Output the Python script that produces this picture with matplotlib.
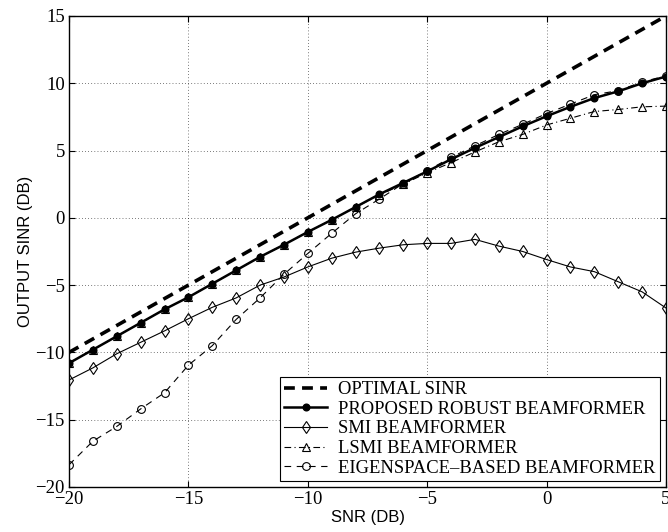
import matplotlib
matplotlib.use("Agg")
import matplotlib.pyplot as plt

snr = [-20, -19, -18, -17, -16, -15, -14, -13, -12, -11, -10, -9, -8,
       -7, -6, -5, -4, -3, -2, -1, 0, 1, 2, 3, 4, 5]

optimal = [-10, -9, -8, -7, -6, -5, -4, -3, -2, -1, 0, 1, 2,
           3, 4, 5, 6, 7, 8, 9, 10, 11, 12, 13, 14, 15]

proposed = [-10.8, -9.8, -8.8, -7.8, -6.8, -5.9, -4.9, -3.9, -2.9, -2.0, -1.05, -0.15, 0.8,
            1.75, 2.6, 3.45, 4.35, 5.2, 6.0, 6.8, 7.55, 8.25, 8.9, 9.4, 10.0, 10.5]

smi = [-12.05, -11.15, -10.1, -9.25, -8.4, -7.5, -6.65, -5.95, -5.0, -4.4, -3.65, -3.0, -2.55,
       -2.25, -2.0, -1.9, -1.9, -1.6, -2.1, -2.5, -3.1, -3.65, -4.0, -4.75, -5.5, -6.7]

lsmi = [-10.8, -9.8, -8.8, -7.8, -6.8, -5.9, -4.9, -3.9, -2.9, -2.0, -1.05, -0.15, 0.8,
        1.7, 2.5, 3.35, 4.1, 4.9, 5.65, 6.2, 6.9, 7.4, 7.9, 8.05, 8.25, 8.3]

eigen = [-18.35, -16.6, -15.5, -14.2, -13.0, -10.95, -9.5, -7.55, -5.95, -4.2, -2.65, -1.15, 0.3,
         1.4, 2.55, 3.5, 4.5, 5.35, 6.2, 6.95, 7.75, 8.45, 9.15, 9.45, 10.1, 10.55]

labels = ["OPTIMAL SINR", "PROPOSED ROBUST BEAMFORMER", "SMI BEAMFORMER",
          "LSMI BEAMFORMER", "EIGENSPACE\u2013BASED BEAMFORMER"]

serif = ["Liberation Serif", "DejaVu Serif"]
sans = ["Liberation Sans", "DejaVu Sans"]

fig = plt.figure(figsize=(6.68, 5.32), dpi=100)
ax = fig.add_axes([0.1033, 0.0846, 0.8937, 0.8854])

ax.plot(snr, optimal, color="black", lw=2.6, ls=(0, (3.0, 2.0)), label=labels[0])
ax.plot(snr, proposed, color="black", lw=1.8, marker="o", ms=4.8, mfc="black", mec="black",
        label=labels[1])
ax.plot(snr, smi, color="black", lw=0.8, marker="d", ms=6.5, mfc="none", mec="black", mew=0.8,
        label=labels[2])
ax.plot(snr, lsmi, color="black", lw=0.8, ls=(0, (6, 3, 1, 3)), marker="^", ms=5.8, mfc="none",
        mec="black", mew=0.8, label=labels[3])
ax.plot(snr, eigen, color="black", lw=0.8, ls=(0, (6, 5)), marker="o", ms=5.6, mfc="none",
        mec="black", mew=0.8, label=labels[4])

ax.set_xlim(-20, 5)
ax.set_ylim(-20, 15)
ax.set_xticks([-20, -15, -10, -5, 0, 5])
ax.set_yticks([-20, -15, -10, -5, 0, 5, 10, 15])
ax.set_xticklabels(["\u221220", "\u221215", "\u221210", "\u22125", "0", "5"], family=serif, fontsize=13.5)
ax.set_yticklabels(["\u221220", "\u221215", "\u221210", "\u22125", "0", "5", "10", "15"], family=serif, fontsize=13.5)
ax.tick_params(direction="in", top=True, right=True, length=4, width=0.8, pad=3)
ax.grid(True, color="black", ls=(0, (1, 3.5)), lw=0.5)
for s in ax.spines.values():
    s.set_linewidth(1.0)

ax.set_xlabel("SNR (DB)", family=sans, fontsize=12, labelpad=1)
ax.set_ylabel("OUTPUT SINR (DB)", family=sans, fontsize=12, labelpad=2)

leg = ax.legend(loc="lower right", prop={"family": serif, "size": 13.4}, frameon=True,
                fancybox=False, edgecolor="black", framealpha=1, borderaxespad=0.3,
                labelspacing=0.14, handlelength=2.3, handletextpad=0.6, borderpad=0.25)
leg.get_frame().set_linewidth(0.8)

fig.savefig("out.png", dpi=100)
